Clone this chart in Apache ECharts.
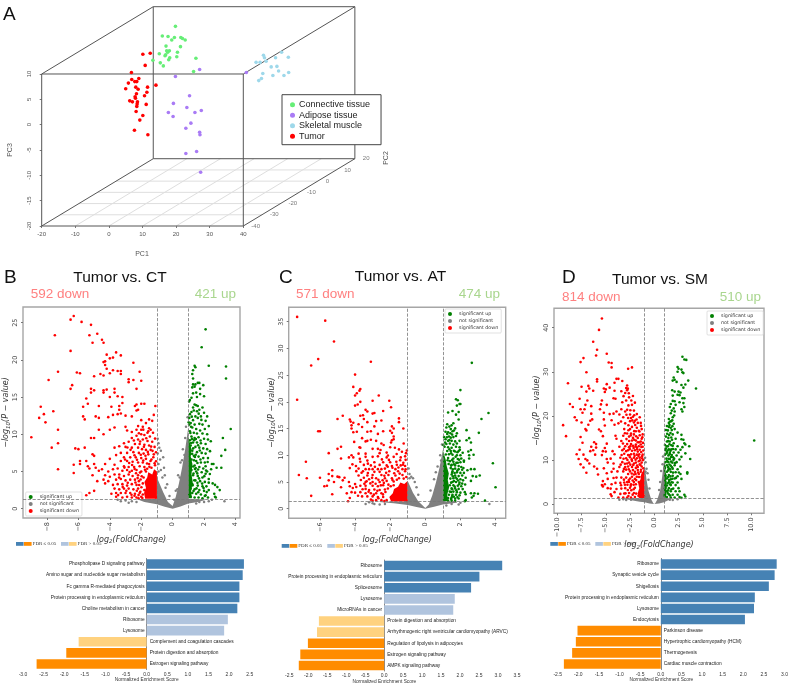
<!DOCTYPE html>
<html><head><meta charset="utf-8">
<style>html,body{margin:0;padding:0;background:#fff}#c{width:791px;height:689px}</style>
<script src="https://cdn.jsdelivr.net/npm/echarts@6/dist/echarts.min.js"></script>
</head><body><div id="c"></div>
<script>
// ---------- Panel A: PCA, projected onto the plane of the front face ----------
const pcaTumor=[[10.1,13.9],[12.3,14.1],[10.8,11.7],[6.7,10.3],[6.8,8.9],[8.9,9.1],[7.7,8.5],[8.3,8.5],[5.8,8.2],[14,7.8],[5,7.1],[8,7.4],[8.7,7],[11.5,7.4],[11.3,6.4],[10.6,5.7],[8.2,6.1],[7.8,5.5],[7.9,5.2],[6.2,4.7],[7,4.5],[8.5,4.5],[8.4,4.1],[8.3,3.6],[11.1,4],[8.1,2.6],[10.1,1.8],[9.2,0.9],[7.6,-1.1],[11.6,-2]];
const pcaConnective=[[19.8,19.4],[15.9,17.5],[17.6,17.4],[19.5,17.2],[21.4,17.2],[21.9,17],[22.7,16.7],[18.7,16.7],[17,15.5],[21.3,15.4],[18,14.6],[17.2,14.6],[15,14],[16.9,13.8],[20.4,14.3],[17.5,14.3],[16.7,13.6],[18.1,13.2],[17.8,12.8],[20.2,13.4],[25.9,13.1],[13.1,12.7],[15.3,12.2],[16.2,11.6],[25.2,10.5]];
const pcaAdipose=[[27,10.9],[40.9,10.3],[19.8,9.5],[24,5.7],[19.2,4.2],[23.2,3.4],[25.6,2.4],[27.5,2.8],[17.7,2.4],[19.1,1.6],[24.4,0.3],[22.9,-0.7],[27,-1.5],[27.1,-2],[26.1,-5.3],[22.9,-5.7],[27.3,-9.4]];
const pcaSkeletal=[[46,13.7],[46.3,13.2],[51.4,14.3],[49.6,13.2],[53.4,13.3],[43.8,12.3],[45,12.3],[46.8,12.5],[48.3,11.4],[50,11.5],[50.5,10.6],[53.5,10.3],[52.1,9.7],[48.8,9.7],[45.8,10.1],[45.4,9.1],[44.6,8.7]];
const pc1Ticks=[-20,-10,0,10,20,30,40];
const pc2Ticks=[-40,-30,-20,-10,0,10,20];
const pc3Ticks=[-20,-15,-10,-5,0,5,10];

// ---------- Panels B, C, D: volcano plots ----------
const bDown=[[-6.3,25.9],[-6.5,25.4],[-5.8,25.1],[-5.2,24.7],[-5.3,23.3],[-7.5,23.3],[-4.8,23.5],[-4.5,22.7],[-4.4,22.3],[-5.1,22.3],[-6.5,21.2],[-4.2,20.7],[-3.6,21],[-3.3,20.6],[-4,20.2],[-3.8,20.3],[-4.4,19.7],[-4.3,19.8],[-2.5,19.6],[-4.3,19.3],[-7.3,18.4],[-5.9,18.2],[-6.1,18.3],[-4.2,18.8],[-3.8,18.6],[-3.5,18.5],[-3.3,18.5],[-2.1,18.4],[-3.3,18.1],[-4,18.2],[-4.6,18.1],[-5,17.8],[-4.4,17.9],[-2.8,17.4],[-2.5,17.3],[-2,17.2],[-7.9,17.3],[-6.4,16.6],[-6.5,16.1],[-5.2,16.1],[-5,15.9],[-5.2,15.6],[-4.4,15.9],[-4.2,16],[-4.4,15.6],[-3.7,16.1],[-3.7,15.6],[-3.5,15.1],[-3.2,15],[-2.8,17],[-2.3,16.1],[-4,15],[-5.5,14.8],[-5.7,13.7],[-5.4,14.1],[-4.7,13.8],[-3.9,13.7],[-3.4,13.8],[-2.4,13.8],[-2.3,14],[-2,14.1],[-1.8,14.1],[-1.1,13.8],[-2.3,13.2],[-2.2,13.3],[-3.2,14.2],[-3.4,13.3],[-8.4,13.7],[-7.6,13.1],[-8.5,12.2],[-8.2,12.7],[-8.1,11.6],[-5.7,12.4],[-5.6,12],[-4.9,12.4],[-4.7,12.2],[-4.1,12.3],[-3.8,12.6],[-3.5,12.7],[-3.3,12.8],[-3,12.5],[-2.6,12.4],[-1.2,12.6],[-7.3,10.6],[-9,9.6],[-5.2,9.5],[-5,9.5],[-4.4,10],[-4.7,10.6],[-4,10.6],[-3.7,10.9],[-3,11],[-2.9,10.5],[-2.6,10.3],[-2.3,10.6],[-2,10.6],[-1.5,10.8],[-1.4,10.6],[-7.3,8.8],[-7.7,8.2],[-6.2,8.1],[-6,8],[-5.6,8.2],[-3.7,8.2],[-3.4,8.4],[-3,8.3],[-5.1,7.3],[-5,7.1],[-7.3,5.3],[-6.3,4.8],[-6.3,5.9],[-5.9,6.4],[-5.9,6],[-5.5,6.4],[-5.4,5.7],[-5.3,5.4],[-5,6],[-4.9,5.5],[-4.7,5.1],[-4.5,5.3],[-5.1,4.5],[-4.8,3.7],[-5.5,1.8],[-5.3,2.1],[-5,2.4],[-1.3,11.8],[-1.5,12],[-1.7,11.5],[-2,11.9],[-2.2,11.1],[-1.9,11],[-1.6,10.2],[-1.25,10.2],[-2.3,9.8],[-2,10],[-1.8,9.9],[-1.45,9.7],[-2.6,9.5],[-2.2,9.3],[-1.9,9.3],[-1.6,9.1],[-1.3,9],[-2.8,9],[-2.4,8.7],[-2.1,8.7],[-1.8,8.6],[-1.5,8.5],[-1.15,8.3],[-3.1,8.8],[-2.6,8.2],[-2.2,8.2],[-1.95,8],[-1.7,7.9],[-1.4,7.9],[-3.3,7.5],[-2.9,7.5],[-2.5,7.6],[-2.15,7.5],[-1.85,7.4],[-1.55,7.3],[-1.2,7.3],[-3.6,7.2],[-3.1,6.9],[-2.7,6.9],[-2.35,6.9],[-2,6.8],[-1.7,6.7],[-1.35,6.6],[-4,6.7],[-3.3,6.4],[-2.9,6.4],[-2.55,6.3],[-2.2,6.2],[-1.9,6.2],[-1.5,6],[-1.15,6.1],[-4.3,6],[-3.7,5.9],[-3.1,5.7],[-2.8,5.6],[-2.45,5.6],[-2.1,5.7],[-1.8,5.6],[-1.35,5.5],[-4.1,5],[-3.8,5.3],[-3.5,5.4],[-3.2,5.1],[-2.9,5.2],[-2.6,5.1],[-2.3,5.2],[-2,5],[-1.7,5],[-4.3,4.5],[-4,4.3],[-3.7,4.6],[-3.4,4.6],[-3.1,4.4],[-2.8,4.6],[-2.55,4.4],[-2.2,4.5],[-4.4,3.9],[-4.1,3.7],[-3.6,3.9],[-3.3,4],[-3,3.8],[-2.7,3.9],[-2.4,3.9],[-2.15,3.7],[-4.3,3.4],[-3.8,3.2],[-3.5,3.3],[-3.2,3.3],[-2.9,3.1],[-2.6,3.3],[-2.3,3.2],[-3.7,2.7],[-3.4,2.6],[-3.1,2.7],[-2.8,2.7],[-2.5,2.6],[-2.2,2.7],[-3.9,2],[-3.6,2.1],[-3.3,2.1],[-3,2.1],[-2.7,2.1],[-2.4,2],[-2.1,2.1],[-3.6,1.6],[-3.2,1.5],[-2.9,1.6],[-2.6,1.5],[-2.3,1.5],[-2,1.6],[-1.8,2.5],[-1.9,3.4],[-1.85,4.2],[-1.9,1.9]];
const bDownDense=[[-1.07,1.52],[-1.93,1.44],[-2.17,1.83],[-1.62,5.37],[-1.12,5.84],[-1.48,5.62],[-1.76,5.23],[-2.08,4.87],[-1.97,4.36],[-2.04,3.92],[-2.23,4.11],[-2.37,3.52],[-2.13,3.18],[-1.99,2.88],[-2.28,2.41],[-2.06,2.27],[-2.43,1.73],[-2.17,1.41],[-1.06,6.37],[-1.23,6.92],[-1.41,6.41],[-1.63,6.08],[-1.87,6.47],[-2.27,6.57],[-1.58,7.63],[-1.28,7.77],[-1.06,7.58],[-2.03,7.24],[-1.73,7.12],[-2.42,5.33],[-2.74,4.93],[-3.07,5.52],[-3.41,4.18],[-2.86,3.47],[-3.18,2.93],[-2.62,1.88],[-3.47,1.83],[-2.95,2.42],[-2.33,4.76],[-2.58,5.87],[-2.77,6.13],[-3.03,6.62],[-2.43,7.18],[-2.68,7.91],[-1.83,8.31],[-2.07,9.03],[-1.37,8.34],[-1.68,9.47],[-1.12,9.42],[-2.47,9.17],[-2.88,8.23],[-1.55,10.4],[-1.87,10.62],[-2.15,10.13]];
const bUp=[[2.1,24.1],[1.85,21.7],[2.3,19.2],[3.4,19.1],[3.4,17.5],[1.4,19.2],[1.45,19],[1.3,18.6],[1.25,18.1],[1.3,17.5],[1.6,16.9],[1.7,16.9],[1.45,16.7],[1.95,16.6],[1.3,16.7],[1.4,16.4],[1.25,16.3],[1.75,16.1],[1.5,15.6],[1.3,15.5],[1.75,15.4],[2,15.1],[1.55,15],[1.2,14.9],[1.1,14.6],[1.05,14.4],[3.7,10.7],[3.2,9.5],[3.35,7.9],[3.1,7.1],[2.5,6],[2.6,6],[2.8,5.5],[3.1,5.5],[2.45,5.3],[2.2,5],[2.1,5.7],[2.3,4],[2.3,3.5],[2.55,3.4],[2.7,3.2],[2.85,2.9],[3,2.5],[2.3,2.5],[2.65,2],[2.7,1.6],[2.75,1.5],[2.25,1.5],[2.1,1.8],[1.4,14],[1.5,13.9],[1.6,13.8],[1.3,13.6],[1.35,13.2],[1.55,13.1],[1.7,13.3],[1.9,13.6],[2,12.9],[1.2,13],[1.1,12.7],[1.45,12.4],[1.6,12.2],[1.8,12.4],[2.2,12.4],[2.1,11.8],[1.3,11.9],[1.15,11.5],[1.05,11.3],[1.4,11.3],[1.7,11.4],[1.9,11.3],[2.3,11.1],[1.25,10.9],[1.5,10.7],[1.75,10.5],[2.05,10.7],[1.1,10.4],[1.35,10.2],[1.55,10.1],[1.9,10.1],[2.2,10],[1.2,9.7],[1.4,9.5],[1.65,9.6],[2,9.4],[2.25,9.3],[1.1,9.2],[1.3,8.9],[1.55,8.9],[1.8,8.8],[2.1,8.7],[1.15,8.5],[1.45,8.3],[1.7,8.2],[1.95,8.1],[2.2,8],[1.25,7.8],[1.55,7.6],[1.85,7.5],[2.1,7.4],[1.1,7.3],[1.35,7.1],[1.65,7],[1.95,6.8],[2.25,6.8],[1.2,6.6],[1.5,6.4],[1.8,6.2],[2.05,6.2],[1.1,6],[1.4,5.8],[1.7,5.6],[1.95,5.4],[1.2,5.2],[1.5,5],[1.85,4.9],[2.1,4.7],[1.3,4.5],[1.6,4.4],[1.9,4.2],[1.15,4],[1.45,3.8],[1.75,3.7],[2.05,3.6],[1.25,3.3],[1.6,3.1],[1.9,3],[2.15,3],[1.15,2.7],[1.4,2.6],[1.7,2.5],[2,2.4],[1.25,2.1],[1.5,2],[1.8,1.9],[2.05,1.7],[1.15,1.6],[1.4,1.5],[1.65,1.5],[1.9,1.4]];
const bUpDense=[[1.07,1.93],[1.33,2.37],[1.27,3.14],[1.38,3.83],[1.33,4.72],[1.42,5.33],[1.31,5.66],[1.36,6.51],[1.24,7.37],[1.42,6.94],[1.31,8.11],[1.18,8.83],[1.37,9.21],[1.23,9.38],[1.13,10.17],[1.02,11.6],[1.17,11.02],[1.06,12.2],[1.22,12.37],[1.52,2.73],[1.63,2.21],[1.58,3.47],[1.68,4.07],[1.57,4.74],[1.47,5.47],[1.62,5.27],[1.58,6.13],[1.77,6.61],[1.47,7.24],[1.73,7.82],[1.62,8.53],[1.48,9.37],[1.78,9.17],[2.13,5.13],[2.02,4.37],[1.88,3.37],[1.97,2.77],[2.17,2.23],[2.37,4.67],[2.23,6.27],[2.38,7.73],[2.43,9.07],[1.83,11.93],[1.66,12.77]];
const bNot=[[-0.95,9.4],[-0.9,8.8],[-0.85,8.2],[-0.75,7.8],[-0.95,7.4],[-0.6,6.9],[-0.8,6.6],[-0.9,6],[-0.55,5.5],[-0.75,5.2],[-0.9,5],[-0.5,4.5],[-0.65,4.2],[-0.35,3.3],[-0.45,2.8],[-0.2,1.7],[0.95,12.3],[0.85,11],[0.8,9.5],[0.65,8],[0.75,7.2],[0.5,6.2],[0.6,6.5],[0.35,4.5],[0.45,4.2],[0.2,2.4],[0.3,2.6],[0.1,1.2],[-2.6,1],[-3,1.1],[-3.3,1],[-2.3,0.9],[-3.5,1.2],[-2.8,0.8],[1.7,0.9],[2,0.9],[2.3,1],[3.3,1],[1.5,0.7],[2.5,1.2]];
const bNotCloud=[[0,0],[0.5,0.3],[1,0.7],[1.6,0.9],[2.2,1.25],[1,1.3],[1,11],[0.8,8],[0.6,5.5],[0.4,3.4],[0.2,1.6],[0,0.35],[-0.3,0.9],[-0.6,2.2],[-1,4.2],[-1,1.3],[-2.3,1.3],[-1.8,0.9],[-1,0.6],[-0.5,0.25]];
const bDownCloud=[[-1,1.35],[-1.75,1.35],[-1.82,2.1],[-1.7,2.8],[-1.8,3.6],[-1.62,4.2],[-1.55,4.9],[-1.3,4.6],[-1.18,5.3],[-1,5]];
const bUpCloud=[[1,1.4],[1.22,1.4],[1.18,2.4],[1.28,3.6],[1.2,4.6],[1.26,6],[1.15,7],[1.2,8],[1.08,9],[1,9.8]];

const cDown=[[-7.3,35.9],[-5.7,35.2],[-5.2,31.3],[-6.1,28],[-6.5,26.8],[-3.1,27.5],[-4,25.1],[-4.1,22.8],[-3.7,22.4],[-3.75,22.1],[-3.9,21.6],[-4,21.2],[-7.3,20.4],[-2.65,21.2],[-3,20.2],[-2.05,20.2],[-3.7,20],[-3.85,19.5],[-4,19.3],[-1.95,19],[-3.4,18.5],[-3.3,18.2],[-2.4,18.3],[-2.9,17.9],[-3,17.8],[-3.7,17.4],[-3.55,17.5],[-4.7,17.4],[-5,16.8],[-4.3,16.7],[-4.25,16.3],[-1.5,16.9],[-1.5,16.2],[-3.5,16.8],[-3.3,16.2],[-4.1,16.1],[-4.2,15.6],[-2.5,16.5],[-2.8,16.4],[-3.8,15.8],[-3.6,15.3],[-2.9,15.4],[-4.2,15],[-1.9,15.4],[-1.8,15],[-2,14.6],[-1.25,15],[-6.1,14.5],[-6,14.5],[-4.1,14.3],[-3.9,14.4],[-3.3,14.4],[-2.7,14],[-3.1,14.5],[-2.4,14.5],[-1.9,14.2],[-1.8,13.5],[-3.6,13.2],[-3.4,12.6],[-3.3,12.7],[-3.1,12.9],[-2.8,12.7],[-2.5,12.2],[-1.9,12.8],[-1.8,13],[-1.95,12.4],[-4.05,12.5],[-3.75,11.5],[-3.7,11.4],[-3,11.2],[-2.7,11.2],[-2.55,11],[-2,11.5],[-1.5,11.1],[-4.8,11.6],[-5,11.2],[-1.05,10.9],[-5.5,10.4],[-1.1,10.4],[-3.8,10.3],[-3.4,10.3],[-2.6,10.4],[-2.2,10.5],[-4.2,10],[-4.35,9.6],[-4.1,9.6],[-3.4,9.7],[-3,9.7],[-2.7,9.8],[-2.2,9.6],[-1.8,9.7],[-1.4,9.6],[-1.15,9.8],[-4.8,9.4],[-6.8,8.8],[-3.7,8.8],[-3.3,9],[-2.9,8.7],[-2.4,8.7],[-2,8.7],[-1.65,8.8],[-1.25,8.6],[-4.15,8.3],[-3.95,8],[-3.5,8.2],[-3.1,8.1],[-2.6,8.2],[-2.2,8.1],[-1.9,8],[-1.4,8.1],[-1.15,8],[-4.3,7.6],[-3.8,7.5],[-3.4,7.4],[-3.2,7.4],[-3,7.4],[-2.7,7.4],[-2.5,7.4],[-2.3,7.5],[-1.7,7.4],[-1.3,7.4],[-5.3,7.2],[-3.55,7],[-2.9,6.9],[-2.6,6.9],[-2.05,7],[-1.55,7],[-1.15,7],[-5.5,6.5],[-7.2,6.3],[-5.3,6.1],[-5,6],[-4.9,5.9],[-6,5.8],[-6.75,5.7],[-3.8,6.2],[-3.3,6.2],[-3,6.3],[-2.5,6.3],[-2.1,6.3],[-1.7,6.2],[-1.3,6.3],[-4.6,5.8],[-3.5,5.8],[-3.2,5.5],[-2.8,5.7],[-2.3,5.7],[-1.9,5.7],[-1.5,5.7],[-5.5,5.3],[-5.6,4.3],[-5.75,4.2],[-5.2,5],[-4.7,5.3],[-4.35,5],[-4.8,4],[-4.3,4.2],[-4,4.6],[-3.4,5],[-3,5],[-2.6,5],[-2.2,5.2],[-1.8,5.1],[-5.3,2.7],[-6.5,2.4],[-4.2,3.1],[-4,3],[-3.7,4.3],[-3.4,4.3],[-3,4.3],[-2.7,4.2],[-2.4,4.4],[-2.1,4.5],[-4.3,2],[-4.4,1.4],[-3.4,3.7],[-3.2,3.5],[-2.9,3.6],[-2.6,3.5],[-2.3,3.6],[-3.7,3.1],[-3.4,2.9],[-3.1,2.9],[-2.8,2.9],[-2.5,2.9],[-3.6,2.3],[-3.3,2.3],[-3,2.3],[-2.7,2.2],[-2.4,2.2],[-3.1,1.7],[-2.8,1.6],[-2.5,1.6],[-2.2,1.6],[-3,1.5],[-1.8,4.4]];
const cDownDense=[[-1.07,1.47],[-2.33,1.42],[-2.41,2.67],[-2.27,3.13],[-2.13,3.78],[-1.97,4.21],[-2.36,4.83],[-1.87,5.37],[-1.62,5.42],[-1.23,5.63],[-1.08,5.94],[-1.46,6.57],[-1.77,6.63],[-2.23,6.71],[-1.12,7.37],[-1.53,7.72],[-1.87,7.66],[-2.14,7.84],[-1.27,8.23],[-1.62,8.21],[-2.07,9.13],[-1.12,9.14],[-1.43,9.07],[-2.67,1.94],[-2.93,2.63],[-3.23,3.17],[-2.73,3.34],[-3.47,4.67],[-3.13,4.73],[-2.83,4.66],[-2.53,4.37],[-2.43,5.33],[-2.67,5.43],[-3.03,5.77],[-3.34,5.13],[-3.67,5.37],[-3.93,4.07],[-3.57,3.63],[-3.83,2.43],[-4.13,3.87],[-4.47,2.87],[-3.27,6.67],[-3.63,6.73],[-3.93,7.03],[-2.33,6.17],[-2.87,7.83],[-3.27,8.43],[-3.73,9.33],[-2.47,9.23],[-2.13,9.97],[-1.63,10.23],[-1.33,10.67],[-1.73,11.4],[-2.37,11.93],[-1.23,12.2]];
const cUp=[[2.65,27.3],[2,22.2],[1.75,20.5],[1.85,20.3],[1.95,19.6],[2,19.6],[1.8,19.3],[1.55,18.3],[1.3,18],[1.9,18.1],[3.6,17.9],[1.75,17.6],[1.9,16.7],[3.2,16.8],[1.25,15.8],[1.5,15.6],[1.6,16],[1.2,15.2],[2.35,14.7],[3.05,14.2],[1.15,14.4],[1.45,14.9],[1.55,14.5],[1.3,14.3],[1.8,14.1],[2.5,13.2],[2.35,12.8],[2.6,12.4],[2.6,11],[2.45,10.7],[2.5,10],[2.5,9.4],[2.2,9],[2.2,8.8],[2.75,10.1],[3.85,8.5],[2.6,7.4],[2.8,7.4],[2.4,7.2],[2.9,6],[2.7,6.1],[3.1,6.2],[2.3,5.8],[2.2,6.7],[2.6,5.2],[2.15,5.3],[4,4],[2.8,2.9],[2.6,2.9],[3,2.8],[2.25,3.1],[2.3,2.7],[2.75,2.4],[2.65,2.1],[2.3,1.6],[2.25,1.4],[3.4,1.5],[1.25,14],[1.35,13.5],[1.45,13.3],[1.6,13.4],[1.75,13.6],[1.15,13],[1.3,12.7],[1.5,12.7],[1.7,12.6],[1.95,12.7],[1.2,12.1],[1.4,12.2],[1.6,12],[1.8,12.2],[1.1,11.6],[1.3,11.5],[1.5,11.4],[1.75,11.6],[1.95,11.5],[1.25,10.8],[1.45,10.8],[1.7,10.7],[1.9,10.8],[1.35,10.2],[1.55,10.1],[1.8,10],[2,10],[1.3,9.5],[1.6,9.4],[1.85,9.3],[2.05,9.4],[1.4,8.9],[1.6,8.8],[1.85,8.6],[2,8.7],[1.5,8.2],[1.7,8.1],[1.9,8],[2.05,7.8],[1.45,7.6],[1.7,7.5],[1.9,7.4],[2.1,7.3],[1.55,7],[1.8,6.8],[2,6.7],[1.5,6.4],[1.7,6.2],[1.9,6.1],[2.1,6.2],[1.6,5.7],[1.8,5.6],[2,5.5],[1.55,5],[1.75,5],[1.95,4.9],[2.1,4.7],[1.4,4.4],[1.6,4.4],[1.85,4.3],[2.05,4.2],[1.5,3.8],[1.7,3.8],[1.9,3.7],[1.4,3.2],[1.6,3.2],[1.8,3.1],[2,3],[1.35,2.6],[1.55,2.6],[1.75,2.6],[1.95,2.5],[1.3,2],[1.5,2.1],[1.7,1.9],[1.9,1.9],[1.3,1.5],[1.5,1.5],[1.7,1.5]];
const cUpDense=[[1.07,1.67],[1.47,1.83],[1.53,2.37],[1.63,2.23],[1.83,2.17],[1.47,3.13],[1.53,3.63],[1.67,4.13],[1.77,3.43],[1.93,4.57],[1.47,4.87],[1.63,5.17],[1.43,5.63],[1.57,6.07],[1.73,5.83],[1.87,5.27],[1.53,6.73],[1.67,6.67],[1.83,7.13],[1.57,7.37],[1.47,8.07],[1.63,8.33],[1.77,8.57],[1.33,8.37],[1.27,9.07],[1.53,9.13],[1.73,9.73],[1.93,9.17],[1.17,10.13],[1.47,10.37],[1.63,10.83],[1.83,10.57],[1.37,11.13],[1.03,11.93],[1.13,12.37],[1.37,12.83],[1.07,13.43],[1.23,13.37],[1.53,13.87],[1.43,14.13],[1.63,14.63],[1.7,15.03],[1.37,15.37],[2.13,3.67],[2.27,4.53],[2.17,7.63],[2.13,10.47],[1.97,11.03]];
const cNot=[[-0.9,6.5],[-0.8,6],[-0.7,5.7],[-0.9,5.7],[-0.6,5],[-0.5,4],[-0.95,7.5],[-0.4,2.6],[0.85,10],[0.9,9],[0.7,7.9],[0.5,5.5],[0.6,6.8],[0.3,3.4],[0.95,12],[3.65,0.9],[-3,1],[-3.4,0.9],[-2.6,0.8],[-2.9,0.9],[1.9,0.8],[2,1.1],[1.5,0.9],[1.2,0.6],[-3.2,1.2],[-2.3,0.9]];
const cNotCloud=[[0,0],[0.5,0.35],[1,0.8],[1.8,1.1],[1.8,1.3],[1,1.3],[1,11],[0.8,7.5],[0.6,4.8],[0.4,2.5],[0.2,0.8],[0,0.15],[-0.4,1.4],[-0.7,3],[-1,5.2],[-1,1.3],[-2.8,1.3],[-1.8,1],[-1,0.7],[-0.5,0.3]];
const cDownCloud=[[-1,1.35],[-1.95,1.35],[-2.05,2.2],[-1.85,2.9],[-1.78,3.7],[-1.55,4.1],[-1.42,4.9],[-1.2,4.6],[-1,5.2]];
const cUpCloud=[[1,1.4],[1.3,1.4],[1.25,2.6],[1.36,4],[1.28,5.4],[1.34,6.6],[1.22,8],[1.16,9.2],[1.05,10.4],[1,11]];

const dDown=[[-5.4,42.1],[-5.7,39.5],[-6.3,36.8],[-5.9,35],[-6,33.7],[-4.9,34.1],[-7.3,33.1],[-7.6,32.2],[-4.7,32.1],[-4.4,32],[-2.7,30.7],[-2.3,31],[-4.4,31],[-7,29.9],[-5.9,28.3],[-5.9,27.8],[-3.9,28.4],[-3.7,28.4],[-3.3,27.9],[-4.1,27.5],[-8.9,27.4],[-7.5,26.6],[-6.8,26.8],[-6.7,26.2],[-5.2,26.2],[-5,26],[-4.9,27.2],[-6.3,25.7],[-7,25.5],[-5.1,25.4],[-4.6,26.4],[-2.8,26.9],[-2.9,26.3],[-2.8,25.8],[-4.1,25.7],[-3.4,25.6],[-3,25.2],[-2.2,24.5],[-2.6,24.2],[-7.7,23.9],[-6.9,23.5],[-5.4,23.5],[-4.2,24],[-4,23.9],[-3.3,23.1],[-2.9,23.5],[-8.7,22.7],[-7.1,22.5],[-6.5,22.2],[-5.5,22.6],[-4.9,22.5],[-2,23],[-2.3,22.5],[-8.4,22],[-7.6,21.5],[-7.2,21.5],[-5.6,21.5],[-3.4,21.5],[-2.8,21.4],[-3.9,21],[-3,21],[-2.1,21.2],[-7.4,20.7],[-6.5,20.5],[-5.2,20.7],[-4.6,20.4],[-4.2,20.5],[-3.6,20.3],[-2.5,20.3],[-1.8,20.4],[-8.2,19.7],[-8,19],[-6.4,19.2],[-6.6,18.9],[-5.2,19.2],[-4.4,19],[-3.2,19.7],[-2.7,19.5],[-2.4,19.5],[-1.5,19.7],[-9.4,17.9],[-7.5,18.5],[-6.8,18],[-7.1,17],[-7,16.7],[-5.1,17.8],[-4.1,18],[-3.7,18.3],[-3,18.3],[-2.1,18.5],[-1.4,18.4],[-5.7,16.9],[-5.5,16.5],[-3.1,17],[-2.3,17.5],[-1.8,17.3],[-1.3,17],[-9.1,15.4],[-7.6,15.2],[-5.3,15.4],[-4,15.5],[-3.2,15.5],[-2.8,16],[-2.1,15.8],[-1.5,15.6],[-6.2,14],[-7.4,13.9],[-6,13.6],[-4.9,13.7],[-3.9,14.8],[-3.4,14.3],[-2.6,14.3],[-1.9,14.4],[-1.4,14.2],[-6.5,13],[-6,12.8],[-5.1,12.7],[-3.6,13],[-3,13.1],[-2.2,13.2],[-1.6,13.1],[-1.2,13],[-7.7,12.3],[-6.6,12],[-6.3,12.2],[-5.3,12],[-5,11.9],[-4.3,12],[-3.3,12.2],[-2.7,12.2],[-2,12.2],[-1.5,12.3],[-8,11.3],[-7.3,11.2],[-6.1,11.2],[-5.4,11.1],[-4.1,11.3],[-3.1,11.4],[-2.4,11.3],[-1.8,11.2],[-1.2,11.2],[-7.8,10.2],[-7.1,10.2],[-6.9,9.9],[-4.9,10.2],[-4.5,10.3],[-3.5,10.5],[-2.9,10.4],[-2.1,10.5],[-1.5,10.5],[-7.6,9],[-7.3,8.3],[-6.7,9.2],[-6.2,8.5],[-4.8,9.4],[-4.2,9.2],[-3.3,9.5],[-2.6,9.4],[-1.9,9.4],[-1.3,9.4],[-7,7.1],[-5.9,8],[-5.2,8.1],[-4.2,8],[-3.6,8.4],[-3,8.4],[-2.3,8.4],[-1.7,8.4],[-5.8,6.7],[-4.9,7],[-4.4,7.3],[-3.8,7.4],[-3.2,7.4],[-2.5,7.4],[-2,7.3],[-1.4,7.3],[-5.3,5.2],[-5.4,4.3],[-5.1,4.5],[-4.8,5.7],[-4.2,5.9],[-3.9,6],[-3.4,6],[-2.9,6],[-2.3,6.2],[-1.8,6.2],[-1.3,6.2],[-5.3,4],[-4.8,3.6],[-4.5,3.5],[-4.4,4.5],[-4,4.8],[-3.5,4.8],[-3.1,4.9],[-2.6,5],[-2.1,5],[-1.6,5],[-4.5,2.2],[-4.4,1.8],[-4.1,2.7],[-3.9,3.4],[-3.4,3.5],[-3,3.6],[-2.5,3.7],[-2,3.7],[-3.7,1.5],[-3.5,2.3],[-3.1,2.4],[-2.6,2.5],[-2.1,2.5],[-3.2,1.5],[-2.8,1.5],[-2.4,1.5],[-2,1.6]];
const dDownDense=[[-1.07,1.73],[-1.33,2.13],[-1.63,1.87],[-1.87,2.37],[-2.23,2.13],[-2.13,3.37],[-2.37,3.13],[-2.43,4.13],[-2.73,3.17],[-2.97,2.43],[-2.67,1.83],[-2.13,4.37],[-2.77,4.37],[-3.03,4.37],[-3.43,4.27],[-1.87,5.43],[-2.23,5.33],[-2.63,5.47],[-3.13,5.53],[-1.57,6.13],[-1.13,6.93],[-1.37,7.77],[-1.67,7.17],[-1.93,6.83],[-2.33,6.93],[-2.63,7.87],[-3.13,7.97],[-3.47,8.93],[-1.13,8.13],[-1.43,8.87],[-1.77,8.73],[-2.17,8.87],[-2.47,8.93],[-3.03,9.13],[-1.17,9.97],[-1.47,9.93],[-1.93,10.03],[-2.33,10.13],[-2.77,10],[-3.17,10.27],[-1.27,10.83],[-1.63,10.87],[-2.03,10.93],[-2.57,11.03],[-3.37,11.13],[-1.13,12.13],[-1.77,12.43],[-2.13,12.73],[-2.53,12.47],[-3.13,12.53],[-1.33,12.93],[-1.93,13.07],[-2.47,13.13],[-3.23,13.73],[-1.17,13.87],[-1.57,14.03],[-2.07,14.57],[-2.87,14.73],[-1.23,15.13],[-1.87,15.37],[-2.43,15.57],[-3.03,16.07],[-1.53,16.47],[-2.07,16.53],[-2.67,16.73],[-1.37,17.73],[-1.97,17.93],[-2.67,17.87],[-3.43,18.73],[-2.27,18.97],[-1.83,19.17],[-2.07,20.13],[-2.87,20.27],[-2.47,21.27],[-2.67,22.37],[-2.37,23.47],[-3.17,24.47],[-2.63,25.13],[-2.73,26.17],[-2.5,18.8],[-2.2,19.8],[-2,18.9],[-1.7,18.4],[-2.5,17],[-1.9,16.5],[-2.4,16],[-1.6,16.6],[-1.2,15.8],[-2.6,15.3],[-2.2,15],[-1.7,15],[-1.3,14.8],[-2.3,14.4],[-1.7,14],[-2.8,13.6],[-2.4,13.6],[-1.9,13.5],[-1.4,13.5],[-2.6,12.9],[-1.8,12.8],[-2.9,12],[-2.3,12.1],[-1.7,11.9],[-1.35,11.8],[-2.7,11.1],[-2.1,11.4],[-1.55,11.3],[-2.5,10.6],[-1.8,10.4],[-1.25,10.4],[-2.3,9.8],[-1.6,9.7],[-2.8,9.2],[-2.1,9.2],[-1.5,9],[-2.7,8.5],[-1.9,8.2],[-1.3,8.5],[-2.9,7.8],[-2.2,7.7],[-1.7,7.7],[-2.7,6.8],[-2.1,6.7],[-1.6,6.8],[-2.5,5.8],[-2,5.7],[-2.8,5],[-2.4,4.5],[-1.9,4.5]];
const dUp=[[2.9,33.4],[3.1,32.8],[3.3,32.7],[2.4,31.1],[2.5,30.7],[2.8,30.5],[2.4,30],[2.9,29.9],[3,29.7],[2,28.7],[2.1,28.2],[1.9,28],[3.5,28],[2.3,27.7],[3.2,27.1],[2.8,27],[4.3,26.2],[3,26.4],[1.85,25.8],[2.1,25.5],[2.5,25.5],[2.7,25.3],[1.9,24.6],[2.4,24.8],[2.6,24.7],[3.1,24],[2.9,24],[1.9,23.4],[2.1,23.3],[2.6,23.1],[3,22.9],[1.7,22.7],[2.2,22.5],[3.1,22],[1.6,22],[2,21.7],[2.8,21.5],[1.8,21.2],[2.1,21],[2.9,21],[1.7,20.6],[2.05,20.1],[1.9,19.7],[1.5,19.3],[1.85,19],[1.75,18.8],[1.5,18.4],[2,18.2],[1.3,17.7],[1.5,17.5],[1.7,17.3],[2.1,17],[1.2,16.8],[1.4,16.7],[2.4,16.2],[1.9,15.8],[2.8,15.7],[1.2,15.3],[1.45,15],[1.75,15.1],[2.2,14.8],[2.8,14.7],[3,14.6],[1.3,14.2],[1.6,14.2],[2,13.8],[3.1,13.8],[3.2,13.5],[3.6,13.1],[1.1,13.4],[1.4,13.1],[1.9,13.2],[2.4,13.1],[2.9,12.9],[1.2,12.6],[1.5,12.4],[1.75,12.4],[2.2,12.4],[2.7,12.3],[1.3,11.8],[1.6,11.6],[2,11.7],[2.5,11.7],[1.1,11.2],[1.45,11],[1.8,11.1],[2.3,11],[3.2,11.5],[3.7,10.2],[2.8,10.7],[1.25,10.3],[1.6,10.2],[2.05,10.3],[2.6,10.1],[1.15,9.5],[1.45,9.5],[1.85,9.4],[2.3,9.5],[1.3,8.8],[1.7,8.7],[2.1,8.8],[2.7,8.5],[1.1,8.2],[1.5,8],[1.9,8],[2.4,7.9],[1.3,7.3],[1.7,7.3],[2.2,7.2],[3.4,7.2],[3.4,6.9],[2.7,6.8],[1.15,6.5],[1.5,6.6],[1.9,6.4],[2.4,6.3],[1.3,5.8],[1.7,5.6],[2.1,5.8],[2.8,5.7],[1.15,5],[1.5,5],[1.9,4.9],[2.4,4.9],[1.3,4.2],[1.7,4.3],[2.2,4.3],[1.1,3.6],[1.5,3.6],[1.95,3.5],[2.5,3.6],[1.3,2.9],[1.7,2.9],[2.2,2.9],[2.6,2.9],[1.1,2.2],[1.5,2.2],[1.9,2.1],[2.4,2.1],[3.1,2.1],[3.2,1.7],[1.3,1.6],[1.7,1.5],[2.1,1.5],[2.6,1.6],[2.8,1.4],[10.3,14.4]];
const dUpDense=[[1.07,1.87],[1.37,2.53],[1.63,1.93],[1.77,3.37],[1.43,3.13],[1.63,4.47],[1.37,4.73],[1.77,4.93],[1.53,5.47],[1.87,5.73],[1.43,6.13],[1.67,6.27],[1.93,7.13],[1.43,7.63],[1.63,7.87],[1.83,8.33],[1.57,8.97],[1.43,8.37],[1.73,9.63],[1.33,9.77],[1.97,9.97],[1.47,10.27],[1.73,10.67],[1.93,10.63],[1.27,11.47],[1.57,11.27],[1.37,12.13],[1.67,12.07],[1.93,12.47],[1.13,12.23],[1.27,13.07],[1.57,13.57],[1.77,13.33],[1.43,14.27],[1.83,14.57],[1.53,15.67],[1.33,15.93],[1.67,16.13],[1.8,16.77],[1.57,17.93],[1.87,17.67],[1.63,18.73],[2.23,5.93],[2.53,7.17],[2.13,9.27]];
const dNot=[[-0.95,10.5],[-0.9,9.5],[-0.8,8],[-0.7,7],[-0.6,5.5],[-0.5,3.5],[-0.9,7.3],[0.9,10.8],[0.85,9],[0.7,7.5],[0.6,5],[0.5,3.2],[-3.6,1],[-3.2,1.1],[-2.9,0.9],[1.6,1],[1.9,0.9],[2.4,1.1],[-2.4,1]];
const dNotCloud=[[0,0],[0.5,0.1],[1,0.4],[1.5,0.9],[1.6,1.3],[1,1.3],[1,10],[0.8,6],[0.6,3],[0.3,1],[0.1,0.2],[0,0],[-0.1,0.2],[-0.3,1],[-0.6,3],[-0.8,5.5],[-1,9],[-1,1.3],[-3.5,1.3],[-2.5,0.9],[-1.5,0.5],[-1,0.4],[-0.5,0.1]];
const dDownCloud=[[-1,1.35],[-1.6,1.35],[-1.72,2.4],[-1.55,3.6],[-1.66,4.7],[-1.42,5.6],[-1.35,6.8],[-1.17,7.5],[-1,8.4]];
const dUpCloud=[[1,1.4],[1.25,1.4],[1.2,2.6],[1.3,3.8],[1.22,5],[1.28,6.2],[1.15,7.4],[1.18,8.6],[1,9.6]];

// ---------- Enrichment bars ----------
const bPathways=['Phospholipase D signaling pathway','Amino sugar and nucleotide sugar metabolism','Fc gamma R-mediated phagocytosis','Protein processing in endoplasmic reticulum','Choline metabolism in cancer','Ribosome','Lysosome','Complement and coagulation cascades','Protein digestion and absorption','Estrogen signaling pathway'];
const bNES=[2.36,2.33,2.25,2.25,2.2,1.97,1.88,-1.65,-1.95,-2.67];
const bSig=[1,1,1,1,1,0,0,0,1,1];
const cPathways=['Ribosome','Protein processing in endoplasmic reticulum','Spliceosome','Lysosome','MicroRNAs in cancer','Protein digestion and absorption','Arrhythmogenic right ventricular cardiomyopathy (ARVC)','Regulation of lipolysis in adipocytes','Estrogen signaling pathway','AMPK signaling pathway'];
const cNES=[3.11,2.51,2.29,1.86,1.82,-1.72,-1.77,-2.01,-2.21,-2.25];
const cSig=[1,1,1,0,0,0,0,1,1,1];
const dPathways=['Ribosome','Synaptic vesicle cycle','Shigellosis','Protein processing in endoplasmic reticulum','Lysosome','Endocytosis','Parkinson disease','Hypertrophic cardiomyopathy (HCM)','Thermogenesis','Cardiac muscle contraction'];
const dNES=[2.81,2.76,2.62,2.28,2.26,2.04,-2.02,-2.06,-2.15,-2.35];
const dSig=[1,1,1,1,1,1,1,1,1,1];

const SANS='"Liberation Sans", Arial, sans-serif', DJ='"DejaVu Sans", sans-serif';
const RED='#ff0000',GREEN='#008000',GRAY='#808080';
const UP='significant up',NS='not significant',DN='significant down';
const fmt=v=>String(v).replace('-','\u2212');
const grid=[],xAxis=[],yAxis=[],series=[],legend=[],graphic=[];

function text(t,x,y,size,fill,extra){graphic.push({type:'text',silent:true,x:x,y:y,z:50,style:Object.assign({text:t,fontSize:size,fontFamily:SANS,fill:fill,textAlign:'center',textVerticalAlign:'middle'},extra||{})});}
function rect(x,y,w,h,fill){graphic.push({type:'rect',silent:true,z:50,shape:{x:x,y:y,width:w,height:h},style:{fill:fill}});}

// ----- Panel A -----
grid.push({left:41.7,top:6.7,width:313.3,height:219.3});
const tickA={fontSize:6,color:'#555',fontFamily:SANS};
xAxis.push({type:'value',gridIndex:0,min:-20,max:73.24,splitLine:{show:false},axisLine:{show:false,onZero:false},
  axisTick:{customValues:pc1Ticks,length:2,lineStyle:{color:'#777'}},axisLabel:Object.assign({customValues:pc1Ticks,margin:5},tickA)});
yAxis.push({type:'value',gridIndex:0,min:-20,max:23.28,splitLine:{show:false},axisLine:{show:false,onZero:false},
  axisTick:{customValues:pc3Ticks,length:2,lineStyle:{color:'#777'}},axisLabel:Object.assign({customValues:pc3Ticks,rotate:90,margin:9},tickA)});
const DX=33.2,DY=13.28;
const edges=[[[-20,-20],[40,-20]],[[40,-20],[40,10]],[[40,10],[-20,10]],[[-20,10],[-20,-20]],
 [[-20+DX,-20+DY],[40+DX,-20+DY]],[[40+DX,-20+DY],[40+DX,10+DY]],[[40+DX,10+DY],[-20+DX,10+DY]],[[-20+DX,10+DY],[-20+DX,-20+DY]],
 [[-20,-20],[-20+DX,-20+DY]],[[40,-20],[40+DX,-20+DY]],[[40,10],[40+DX,10+DY]],[[-20,10],[-20+DX,10+DY]]];
const floor=[];
pc1Ticks.slice(1,-1).forEach(h=>floor.push([[h,-20],[h+DX,-20+DY]]));
pc2Ticks.slice(1,-1).forEach(p=>{const t=(p+40)/60;floor.push([[-20+DX*t,-20+DY*t],[40+DX*t,-20+DY*t]]);});
floor.forEach(d=>series.push({type:'line',xAxisIndex:0,yAxisIndex:0,data:d,symbol:'none',silent:true,clip:false,z:1,lineStyle:{color:'#dedede',width:1}}));
edges.forEach(d=>series.push({type:'line',xAxisIndex:0,yAxisIndex:0,data:d,symbol:'none',silent:true,clip:false,z:2,lineStyle:{color:'#555',width:1}}));
series.push({type:'scatter',xAxisIndex:0,yAxisIndex:0,symbolSize:0,silent:true,clip:false,
  data:pc2Ticks.map(p=>{const t=(p+40)/60;return {value:[40+DX*t,-20+DY*t],name:String(p)};}),
  label:{show:true,position:'right',distance:8,formatter:'{b}',fontSize:6,color:'#555',fontFamily:SANS}});
[['Connective tissue',pcaConnective,'#66ee77'],['Adipose tissue',pcaAdipose,'#a97bf5'],['Skeletal muscle',pcaSkeletal,'#9ed8ea'],['Tumor',pcaTumor,RED]].forEach(s=>
  series.push({name:s[0],type:'scatter',xAxisIndex:0,yAxisIndex:0,data:s[1],symbolSize:3.6,clip:false,z:3,itemStyle:{color:s[2],opacity:1}}));
legend.push({orient:'vertical',left:282,top:94.7,padding:[5.5,11,4,8],itemWidth:5,itemHeight:5,itemGap:1.5,icon:'circle',backgroundColor:'#fff',
  borderColor:'#444',borderWidth:1,selectedMode:false,data:['Connective tissue','Adipose tissue','Skeletal muscle','Tumor'],
  textStyle:{fontSize:9,color:'#222',fontFamily:SANS,padding:[0,0,0,-1]}});
text('PC1',142,254,7,'#555');text('PC3',10,150,7,'#555',{});
graphic[graphic.length-1].rotation=Math.PI/2;
text('PC2',386,158,7,'#555');graphic[graphic.length-1].rotation=Math.PI/2;

// ----- Volcanoes -----
function volcano(p){
  const i=grid.length;
  grid.push({left:p.l,top:p.t,width:p.r-p.l,height:p.b-p.t,show:true,borderColor:'#a6a6a6',borderWidth:1.4,backgroundColor:'#fff'});
  const lab={rotate:90,fontSize:6.5,color:'#444',fontFamily:DJ,margin:4};
  xAxis.push({type:'value',gridIndex:i,min:p.x0,max:p.x1,splitLine:{show:false},axisLine:{show:false,onZero:false},
    axisTick:{customValues:p.xt,length:2,lineStyle:{color:'#777'}},
    axisLabel:Object.assign({customValues:p.xt,formatter:v=>fmt(p.xd?v.toFixed(p.xd):v)},lab),
    name:'{i|log}{s|2}{i|(FoldChange)}',nameLocation:'middle',nameGap:p.xg,
    nameTextStyle:{rich:{i:{fontSize:8,fontStyle:'italic',fontFamily:DJ,color:'#333'},s:{fontSize:5.5,fontStyle:'italic',fontFamily:DJ,color:'#333',verticalAlign:'bottom',padding:[4,0,0,0]}}}});
  yAxis.push({type:'value',gridIndex:i,min:p.y0,max:p.y1,splitLine:{show:false},axisLine:{show:false,onZero:false},
    axisTick:{customValues:p.yt,length:2,lineStyle:{color:'#777'}},
    axisLabel:Object.assign({customValues:p.yt},lab),
    name:'{i|\u2212log}{s|10}{i|(P \u2212 value)}',nameLocation:'middle',nameRotate:90,nameGap:p.yg,
    nameTextStyle:{rich:{i:{fontSize:8,fontStyle:'italic',fontFamily:DJ,color:'#333'},s:{fontSize:5.5,fontStyle:'italic',fontFamily:DJ,color:'#333',verticalAlign:'bottom',padding:[4,0,0,0]}}}});
  const poly=(pts,c,z)=>series.push({type:'custom',coordinateSystem:'cartesian2d',xAxisIndex:i,yAxisIndex:i,data:pts,silent:true,z:z,clip:true,
    renderItem:(q,api)=>q.dataIndex?null:{type:'polygon',shape:{points:pts.map(d=>api.coord(d))},style:{fill:c}}});
  poly(p.notCloud,GRAY,2);
  series.push({name:NS,type:'scatter',xAxisIndex:i,yAxisIndex:i,data:p.not,symbolSize:2.5,z:2,itemStyle:{color:GRAY,opacity:1},
    markLine:{silent:true,symbol:'none',animation:false,label:{show:false},lineStyle:{type:'dashed',color:'#777',width:0.8},data:[{xAxis:-1},{xAxis:1},{yAxis:1.3}]}});
  poly(p.downCloud,RED,3);
  series.push({name:DN,type:'scatter',xAxisIndex:i,yAxisIndex:i,data:p.down,symbolSize:2.6,z:3,itemStyle:{color:RED,opacity:1}});
  poly(p.upCloud,GREEN,3);
  series.push({name:UP,type:'scatter',xAxisIndex:i,yAxisIndex:i,data:p.up,symbolSize:2.6,z:3,itemStyle:{color:GREEN,opacity:1}});
  legend.push({orient:'vertical',left:p.ll,top:p.lt,padding:[2.5,3,2.5,3],itemWidth:4,itemHeight:4,itemGap:2,icon:'circle',backgroundColor:'#fff',
    borderColor:'#ccc',borderWidth:0.6,borderRadius:1,selectedMode:false,data:[UP,NS,DN],textStyle:{fontSize:4.8,color:'#333',fontFamily:DJ,padding:[0,0,0,2]}});
  text(p.title,p.tx,p.ty,15.5,'#111');
  text(p.dn,p.dx,p.dy,13.5,'#ff8080',{textAlign:'left'});
  text(p.upT,p.ux,p.uy,13.5,'#a9d68e',{textAlign:'right'});
  text(p.letter,p.lx,p.ly,19,'#111',{textAlign:'left'});
}
volcano({l:23,r:240,t:307,b:518,x0:-9.53,x1:4.29,y0:-1.25,y1:27.1,xt:[-8,-6,-4,-2,0,2,4],yt:[0,5,10,15,20,25],xg:14,yg:11,
  up:bUp.concat(bUpDense),not:bNot,down:bDown.concat(bDownDense),notCloud:bNotCloud,downCloud:bDownCloud,upCloud:bUpCloud,ll:25.7,lt:492,
  title:'Tumor vs. CT',tx:120,ty:278,dn:'592 down',dx:30.7,dy:294,upT:'421 up',ux:236,uy:294,letter:'B',lx:4,ly:278});
volcano({l:288.7,r:505.7,t:307.3,b:518.3,x0:-7.78,x1:4.58,y0:-1.8,y1:37.7,xt:[-6,-4,-2,0,2,4],yt:[0,5,10,15,20,25,30,35],xg:14,yg:10.5,
  up:cUp.concat(cUpDense),not:cNot,down:cDown.concat(cDownDense),notCloud:cNotCloud,downCloud:cDownCloud,upCloud:cUpCloud,ll:445,lt:309,
  title:'Tumor vs. AT',tx:400.5,ty:277,dn:'571 down',dx:296,dy:294,upT:'474 up',ux:500,uy:294,letter:'C',lx:279,ly:278});
volcano({l:554,r:764,t:308.3,b:513.3,x0:-10.34,x1:11.31,y0:-2.1,y1:44.4,xt:[-10,-7.5,-5,-2.5,0,2.5,5,7.5,10],yt:[0,10,20,30,40],xd:1,xg:22.5,yg:10.5,
  up:dUp.concat(dUpDense),not:dNot,down:dDown.concat(dDownDense),notCloud:dNotCloud,downCloud:dDownCloud,upCloud:dUpCloud,ll:707,lt:311,
  title:'Tumor vs. SM',tx:660,ty:280,dn:'814 down',dx:562,dy:297.5,upT:'510 up',ux:761,uy:297,letter:'D',lx:562,ly:278});

// ----- Enrichment bars -----
const BLUE='#4682b4',LBLUE='#b0c4de',ORANGE='#ff8c00',LORANGE='#ffd27f';
function bars(p){
  const i=grid.length;
  grid.push({left:p.l,top:p.t,width:p.r-p.l,height:111});
  xAxis.push({type:'value',gridIndex:i,min:p.x0,max:p.x1,interval:0.5,splitLine:{show:false},
    axisLine:{onZero:false,lineStyle:{color:'#777',width:1}},axisTick:{length:2,lineStyle:{color:'#777'}},
    axisLabel:{formatter:v=>v.toFixed(1),fontSize:5,color:'#333',fontFamily:SANS,margin:2.5,showMinLabel:true,showMaxLabel:true}});
  yAxis.push({type:'category',gridIndex:i,inverse:true,data:p.names,axisLabel:{show:false},axisTick:{show:false},
    axisLine:{onZero:true,lineStyle:{color:'#888',width:1}}});
  series.push({type:'bar',xAxisIndex:i,yAxisIndex:i,barWidth:9.6,silent:true,z:2,
    data:p.vals.map((v,k)=>({value:v,itemStyle:{color:v>0?(p.sig[k]?BLUE:LBLUE):(p.sig[k]?ORANGE:LORANGE)},
      label:{show:true,position:v>0?'left':'right',distance:v>0?2:3,formatter:p.names[k],fontSize:4.8,color:'#222',fontFamily:SANS}}))});
  text('Normalized Enrichment Score',p.zero,p.ny,4.8,'#333');
  const st={textAlign:'left',fontFamily:'"Liberation Serif", serif'};
  rect(p.k1,p.ky-2,7.6,3.8,BLUE);rect(p.k1+8,p.ky-2,7.6,3.8,ORANGE);text('FDR \u2264 0.05',p.k1+16.6,p.ky,5,'#333',st);
  rect(p.k2,p.ky-2,7.6,3.8,LBLUE);rect(p.k2+8,p.ky-2,7.6,3.8,LORANGE);text('FDR > 0.05',p.k2+16.6,p.ky,5,'#333',st);
}
bars({l:23,r:249.7,t:558.5,x0:-3,x1:2.5,names:bPathways,vals:bNES,sig:bSig,zero:146.7,ny:680,k1:16,k2:61,ky:544});
bars({l:289.3,r:517,t:560,x0:-2.5,x1:3.5,names:cPathways,vals:cNES,sig:cSig,zero:384.3,ny:681.5,k1:281.7,k2:327.3,ky:546});
bars({l:557.7,r:784.7,t:558.5,x0:-2.5,x1:3,names:dPathways,vals:dNES,sig:dSig,zero:661.3,ny:680,k1:550.3,k2:595.3,ky:544});

text('A',3,15,19,'#111',{textAlign:'left'});

const chart=echarts.init(document.getElementById('c'),null,{renderer:'canvas'});
chart.setOption({animation:false,backgroundColor:'#fff',tooltip:{show:false},grid,xAxis,yAxis,series,legend,graphic});
</script></body></html>
